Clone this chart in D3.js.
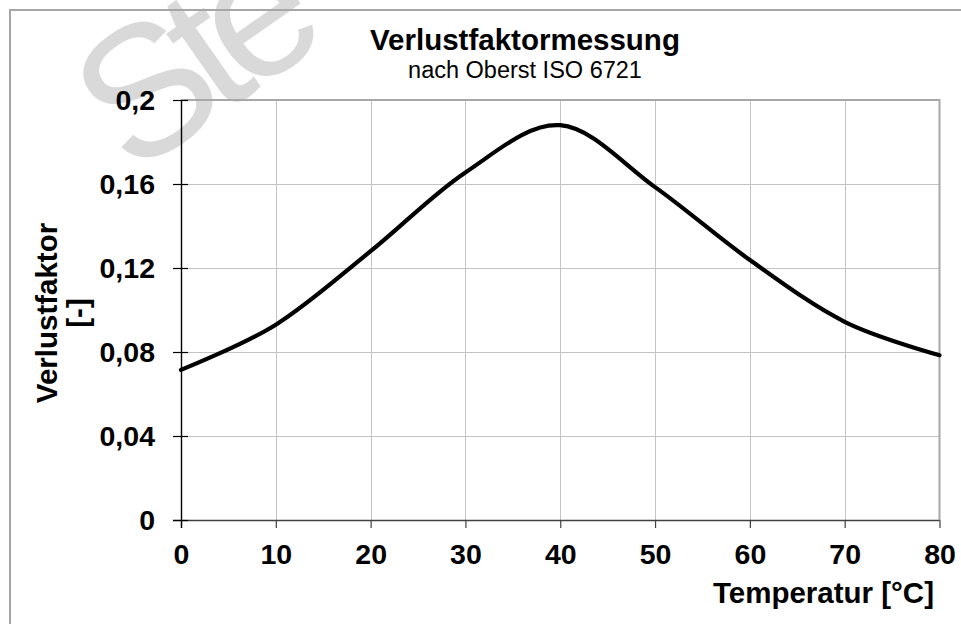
<!DOCTYPE html>
<html>
<head>
<meta charset="utf-8">
<script src="https://cdn.jsdelivr.net/npm/d3@7"></script>
<style>
  html, body { margin: 0; padding: 0; background: #fff; }
  svg { display: block; font-family: "Liberation Sans", Arial, sans-serif; }
</style>
</head>
<body>
<svg id="chart" width="961" height="624"></svg>
<script>
// ---- data ----
const temperatures = [0, 10, 20, 30, 40, 50, 60, 70, 80];
const lossFactor   = [0.0715, 0.093, 0.128, 0.1655, 0.188, 0.1585, 0.1238, 0.0944, 0.0785];
const xTicks = [0, 10, 20, 30, 40, 50, 60, 70, 80];
const xTickLabels = ["0", "10", "20", "30", "40", "50", "60", "70", "80"];
const yTicks = [0, 0.04, 0.08, 0.12, 0.16, 0.2];
const yTickLabels = ["0", "0,04", "0,08", "0,12", "0,16", "0,2"];
const titleText = "Verlustfaktormessung";
const subtitleText = "nach Oberst ISO 6721";
const xTitle = "Temperatur [°C]";
const yTitleLines = ["Verlustfaktor", "[-]"];
const watermarkText = "Ste";

// ---- layout ----
const svg = d3.select("#chart");
const plot = { left: 181, right: 939.5, top: 100, bottom: 520 };

const x = d3.scaleLinear().domain([0, 80]).range([plot.left, plot.right]);
const y = d3.scaleLinear().domain([0, 0.2]).range([plot.bottom, plot.top]);

// watermark
svg.append("text")
  .attr("transform", "translate(132,177) rotate(-35)")
  .attr("font-size", 185)
  .attr("letter-spacing", -16)
  .attr("fill", "#d9d9d9")
  .text(watermarkText);

// outer frame (right/bottom edges lie outside the viewport)
svg.append("rect")
  .attr("x", 10).attr("y", 10)
  .attr("width", 980).attr("height", 640)
  .attr("fill", "none")
  .attr("stroke", "#a6a6a6")
  .attr("stroke-width", 2);

// grid lines
const grid = svg.append("g");
grid.selectAll("line.v").data(xTicks.slice(1, -1)).join("line")
  .attr("x1", d => Math.round(x(d)) + 0.5).attr("x2", d => Math.round(x(d)) + 0.5)
  .attr("y1", plot.top).attr("y2", plot.bottom)
  .attr("stroke", "#c4c4c4").attr("stroke-width", 1);
grid.selectAll("line.h").data(yTicks.slice(1, -1)).join("line")
  .attr("x1", plot.left).attr("x2", plot.right)
  .attr("y1", d => Math.round(y(d)) + 0.5).attr("y2", d => Math.round(y(d)) + 0.5)
  .attr("stroke", "#c4c4c4").attr("stroke-width", 1);

// plot border (top & right)
svg.append("path")
  .attr("d", `M${plot.left},${plot.top}H${plot.right}V${plot.bottom}`)
  .attr("fill", "none")
  .attr("stroke", "#a8a8a8")
  .attr("stroke-width", 2);

const fontFam = "'Liberation Sans', Arial, sans-serif";

// x axis
const xAxis = svg.append("g")
  .attr("transform", `translate(0,${plot.bottom})`)
  .call(d3.axisBottom(x).tickValues(xTicks).tickFormat((d, i) => xTickLabels[i]).tickSizeInner(8).tickSizeOuter(0).tickPadding(16));
xAxis.select(".domain").attr("stroke", "#404040").attr("stroke-width", 1.6)
  .attr("d", `M${plot.left - 8},0.5H${plot.right}`);
xAxis.selectAll(".tick line").attr("stroke", "#404040").attr("stroke-width", 1.2);
xAxis.selectAll(".tick text")
  .attr("font-size", 28.5).attr("font-weight", "bold").attr("fill", "#000")
  .attr("font-family", fontFam);

// y axis
const yAxis = svg.append("g")
  .attr("transform", `translate(${plot.left},0)`)
  .call(d3.axisLeft(y).tickValues(yTicks).tickFormat((d, i) => yTickLabels[i]).tickSizeInner(8).tickSizeOuter(0).tickPadding(18));
yAxis.select(".domain").attr("stroke", "#000").attr("stroke-width", 1.4)
  .attr("d", `M0.5,${plot.top}V${plot.bottom + 8}`);
yAxis.selectAll(".tick line").attr("x1", 7).attr("stroke", "#000").attr("stroke-width", 1.2);
yAxis.selectAll(".tick text")
  .attr("font-size", 28.5).attr("font-weight", "bold").attr("fill", "#000")
  .attr("font-family", fontFam);

// data line
const line = d3.line()
  .x((d, i) => x(temperatures[i]))
  .y(d => y(d))
  .curve(d3.curveCardinal.tension(0));
svg.append("path")
  .datum(lossFactor)
  .attr("d", line)
  .attr("fill", "none")
  .attr("stroke", "#000")
  .attr("stroke-width", 4.2)
  .attr("stroke-linejoin", "round")
  .attr("stroke-linecap", "round");

// titles
svg.append("text")
  .attr("x", 525).attr("y", 50)
  .attr("text-anchor", "middle")
  .attr("font-size", 29.5).attr("font-weight", "bold")
  .text(titleText);
svg.append("text")
  .attr("x", 525).attr("y", 78)
  .attr("text-anchor", "middle")
  .attr("font-size", 23.5)
  .text(subtitleText);

// axis titles
svg.append("text")
  .attr("x", 934).attr("y", 603)
  .attr("text-anchor", "end")
  .attr("font-size", 29.5).attr("font-weight", "bold")
  .text(xTitle);

const yt = svg.append("text")
  .attr("transform", "translate(57,313) rotate(-90)")
  .attr("text-anchor", "middle")
  .attr("font-size", 29.5).attr("font-weight", "bold");
yt.selectAll("tspan").data(yTitleLines).join("tspan")
  .attr("x", 0)
  .attr("dy", (d, i) => i === 0 ? 0 : 31)
  .text(d => d);
</script>
</body>
</html>
